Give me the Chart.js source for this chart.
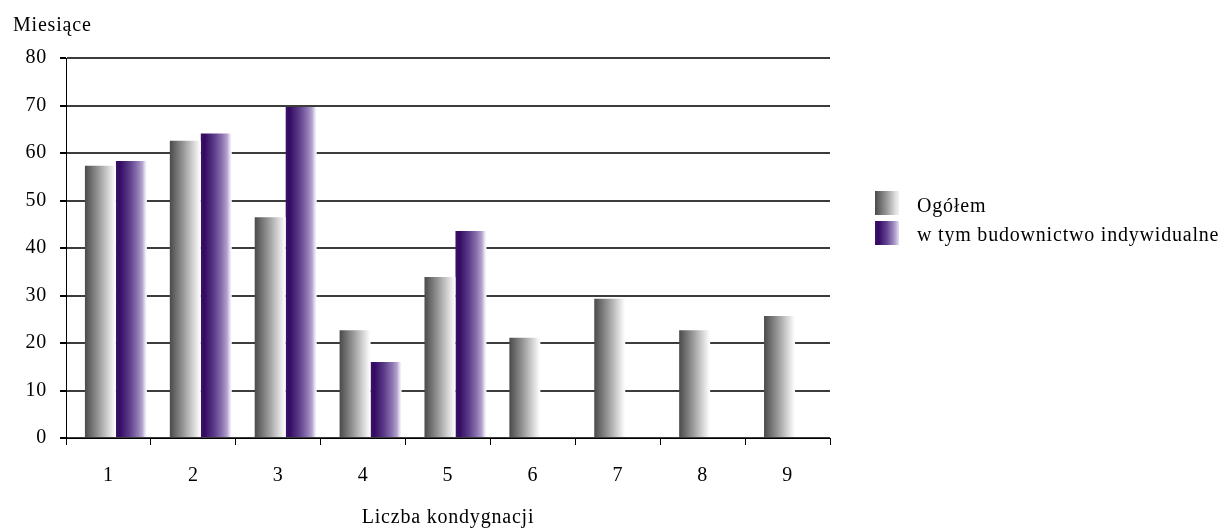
<!DOCTYPE html>
<html>
<head>
<meta charset="utf-8">
<script src="https://cdn.jsdelivr.net/npm/chart.js@4/dist/chart.umd.min.js"></script>
<style>
  html, body { margin: 0; padding: 0; background: #fff; }
  #wrap { width: 1220px; height: 529px; }
</style>
</head>
<body>
<div id="wrap"><canvas id="chart" width="1220" height="529"></canvas></div>
<script>
// data
const floors = ["1", "2", "3", "4", "5", "6", "7", "8", "9"];
const total = [57.3, 62.6, 46.5, 22.7, 33.9, 21.1, 29.3, 22.7, 25.7];
const individual = [58.3, 64.1, 69.7, 16.0, 43.6, null, null, null, null];
const yTicks = [0, 10, 20, 30, 40, 50, 60, 70, 80];
const seriesNames = ["Ogółem", "w tym budownictwo indywidualne"];

const FONT = "'Liberation Serif', 'Times New Roman', serif";
const CAT_PCT = 0.73;
const BAR_PCT = 1.0;
const SHIFT = 0.088; // bars sit a little right of the category centre

const grayStops = [[0, "#4a4a4a"], [0.45, "#9a9a9a"], [0.8, "#dcdcdc"], [0.93, "#f4f4f4"], [1, "#ffffff"]];
const purpleStops = [[0, "#3a1268"], [0.12, "#330a62"], [0.45, "#5e3f8c"], [0.7, "#8e76b2"],
                     [0.85, "#b3a3cd"], [0.93, "#e2dbee"], [1, "#ffffff"]];

function makeGradient(ctx2d, x0, x1, stops) {
  const g = ctx2d.createLinearGradient(x0, 0, x1, 0);
  stops.forEach(s => g.addColorStop(s[0], s[1]));
  return g;
}

// horizontal gradient placed over the bar, using the bar scale
function barFill(ctx, dsIndex, stops) {
  const chart = ctx.chart;
  const xb = chart.scales.xb;
  if (!xb || ctx.dataIndex === undefined) return stops[1][1];
  const center = xb.getPixelForValue(ctx.dataIndex + 1);
  const unit = Math.abs(xb.getPixelForValue(2) - xb.getPixelForValue(1));
  if (!isFinite(center) || !isFinite(unit) || unit === 0) return stops[1][1];
  const group = unit * CAT_PCT;
  const slot = group / 2;
  const left = center - group / 2 + slot * dsIndex + slot * (1 - BAR_PCT) / 2;
  return makeGradient(chart.ctx, left, left + slot * BAR_PCT, stops);
}

const extraText = {
  id: "extraText",
  beforeDraw(chart) {
    // the original text is set a bit wider than the plain font
    chart.ctx.letterSpacing = "0.8px";
  },
  afterDraw(chart) {
    const c = chart.ctx;
    c.save();
    c.font = "20px " + FONT;
    c.fillStyle = "#000";
    c.textBaseline = "alphabetic";
    c.textAlign = "left";
    c.fillText("Miesiące", 13, 31);

    // legend
    const boxes = [[191, [[0, "#4a4a4a"], [0.5, "#9c9c9c"], [0.85, "#dedede"], [1, "#f2f2f2"]]],
                   [221, [[0, "#3a1268"], [0.15, "#330a62"], [0.5, "#644592"], [0.8, "#a592c4"], [1, "#e6e0f0"]]]];
    const baselines = [212, 241];
    boxes.forEach((b, i) => {
      c.fillStyle = makeGradient(c, 875, 899, b[1]);
      c.fillRect(875, b[0], 24, 24);
      c.fillStyle = "#000";
      c.fillText(seriesNames[i], 917, baselines[i]);
    });
    c.restore();
  }
};

new Chart(document.getElementById("chart"), {
  type: "bar",
  data: {
    labels: floors,
    datasets: [
      {
        label: seriesNames[0],
        data: total,
        xAxisID: "xb",
        backgroundColor: ctx => barFill(ctx, 0, grayStops),
        borderWidth: 0
      },
      {
        label: seriesNames[1],
        data: individual,
        xAxisID: "xb",
        backgroundColor: ctx => barFill(ctx, 1, purpleStops),
        borderWidth: 0
      }
    ]
  },
  options: {
    responsive: false,
    animation: false,
    events: [],
    categoryPercentage: CAT_PCT,
    barPercentage: BAR_PCT,
    layout: { padding: { top: 58, right: 390, bottom: 0, left: 0 } },
    plugins: {
      legend: { display: false },
      tooltip: { enabled: false },
      title: { display: false }
    },
    scales: {
      x: {
        type: "category",
        axis: "x",
        offset: true,
        afterFit: s => { s.height = 91; },
        grid: {
          offset: true,
          drawOnChartArea: false,
          drawTicks: true,
          tickLength: 7,
          color: "#000",
          tickColor: "#000"
        },
        border: { display: true, color: "#000", width: 1 },
        ticks: { color: "#000", font: { family: FONT, size: 20 }, padding: 19, maxRotation: 0 },
        title: {
          display: true,
          text: "Liczba kondygnacji",
          color: "#000",
          font: { family: FONT, size: 20, lineHeight: 1.1 },
          padding: { top: 0, bottom: 0 }
        }
      },
      xb: {
        type: "linear",
        axis: "x",
        display: false,
        offset: false,
        bounds: "data",
        grace: 0,
        min: 0.5 - SHIFT,
        max: 9.5 - SHIFT,
        afterBuildTicks: s => { s.ticks = floors.map((f, i) => ({ value: i + 1 })); },
        afterDataLimits: s => { s.min = 0.5 - SHIFT; s.max = 9.5 - SHIFT; }
      },
      y: {
        min: 0,
        max: 80,
        afterFit: s => { s.width = 66; },
        afterBuildTicks: s => { s.ticks = yTicks.map(v => ({ value: v })); },
        grid: {
          color: "#3c3c3c",
          lineWidth: 2,
          drawTicks: true,
          tickLength: 6,
          tickColor: "#000"
        },
        border: { display: true, color: "#000", width: 1 },
        ticks: { color: "#000", font: { family: FONT, size: 20 }, padding: 13 }
      }
    }
  },
  plugins: [extraText]
});
</script>
</body>
</html>
